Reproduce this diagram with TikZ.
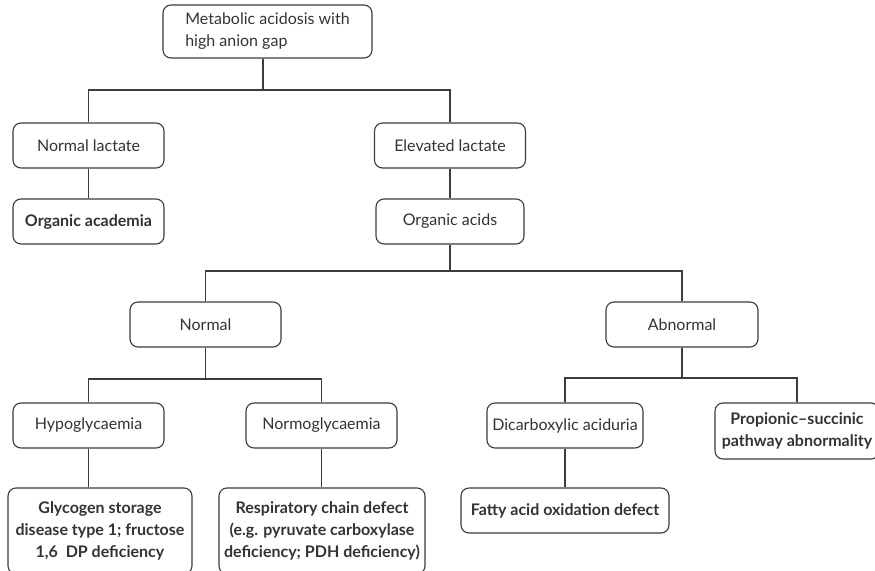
\documentclass[tikz,border=0pt]{standalone}
\usepackage{fontspec}
\setmainfont{Lato}
\definecolor{ink}{HTML}{333333}
\definecolor{edge}{HTML}{3c3c3c}
\begin{document}
\begin{tikzpicture}[x=1pt,y=-1pt,
  box/.style={draw=edge,line width=1.1pt,rounded corners=8pt,text=ink,align=center,
    inner sep=0pt,font=\fontsize{16}{22}\selectfont},
  leaf/.style={box,font=\fontsize{16}{22}\selectfont\bfseries},
  link/.style={draw=edge,line width=1.1pt}]
\useasboundingbox (0,0) rectangle (875,570);
\fill[white] (0,0) rectangle (875,570);
% level 0
\node[box,align=left,minimum width=209pt,minimum height=53pt] (root) at (267.5,31.5)
  {Metabolic acidosis with\\high anion gap};
% level 1
\node[box,minimum width=151pt,minimum height=45pt] (nl) at (88.5,145.5) {Normal lactate};
\node[box,minimum width=151pt,minimum height=45pt] (el) at (450,145.5) {Elevated lactate};
% level 2
\node[leaf,minimum width=151pt,minimum height=45pt] (oacad) at (88.5,221.5) {Organic academia};
\node[box,minimum width=148pt,minimum height=45pt] (oacids) at (450,221.5) {Organic acids};
% level 3
\node[box,minimum width=151pt,minimum height=45pt] (normal) at (205.5,324.5) {Normal};
\node[box,minimum width=152pt,minimum height=45pt] (abnormal) at (682,324.5) {Abnormal};
% level 4
\node[box,minimum width=151pt,minimum height=45pt] (hypo) at (88.5,425.5) {Hypoglycaemia};
\node[box,minimum width=151pt,minimum height=45pt] (normo) at (321.5,425.5) {Normoglycaemia};
\node[box,minimum width=156pt,minimum height=45pt] (dicarb) at (565,425.5) {Dicarboxylic aciduria};
\node[leaf,minimum width=164pt,minimum height=56pt] (prop) at (797,431) {Propionic--succinic\\pathway abnormality};
% level 5
\node[leaf,minimum width=184pt,minimum height=86pt] (glyc) at (100,531)
  {Glycogen storage\\disease type 1; fructose\\1,6\ \ DP deficiency};
\node[leaf,minimum width=206pt,minimum height=86pt] (resp) at (322,531)
  {Respiratory chain defect\\(e.g. pyruvate carboxylase\\deficiency; PDH deficiency)};
\node[leaf,minimum width=208pt,minimum height=45pt] (fatty) at (565,510.5) {Fatty acid oxidation defect};
% bus coordinates
\coordinate (bus1) at (263,90);
\coordinate (bus2) at (450,271);
\coordinate (bus3) at (205.5,379);
\coordinate (bus4) at (682,378);
% connectors
\draw[link] (bus1 |- root.south) -- (bus1);
\draw[link] (nl.north) |- (bus1) -| (el.north);
\draw[link] (nl.south) -- (oacad.north);
\draw[link] (el.south) -- (oacids.north);
\draw[link] (oacids.south) -- (bus2);
\draw[link] (normal.north) |- (bus2) -| (abnormal.north);
\draw[link] (normal.south) -- (bus3);
\draw[link] (hypo.north) |- (bus3) -| (normo.north);
\draw[link] (abnormal.south) -- (bus4);
\draw[link] (dicarb.north) |- (bus4) -| (prop.north);
\draw[link] (hypo.south) -- (hypo.south |- glyc.north);
\draw[link] (normo.south) -- (normo.south |- resp.north);
\draw[link] (dicarb.south) -- (dicarb.south |- fatty.north);
\end{tikzpicture}
\end{document}
